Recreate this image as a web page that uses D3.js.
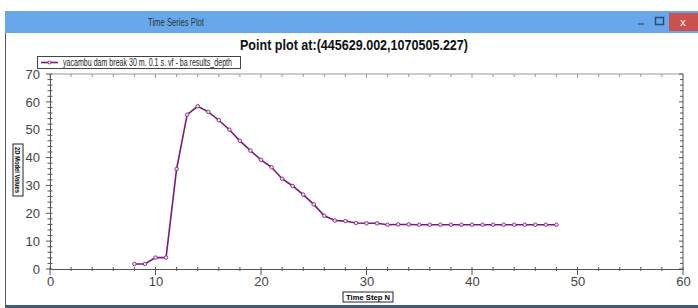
<!DOCTYPE html>
<html lang="en">
<head>
    <meta charset="UTF-8">
    <title>Time Series Plot</title>
    <script src="https://d3js.org/d3.v7.min.js"></script>
    <style>
        body { margin: 0; background: #fff; }
        text { font-family: Arial, "Liberation Sans", sans-serif; }
    </style>
</head>
<body>
    <script>
        // Data
        const timeSteps = [8, 9, 10, 11, 12, 13, 14, 15, 16, 17, 18, 19, 20, 21, 22, 23, 24, 25, 26, 27, 28,
                           29, 30, 31, 32, 33, 34, 35, 36, 37, 38, 39, 40, 41, 42, 43, 44, 45, 46, 47, 48];
        const depthValues = [1.8, 1.8, 4.1, 4.1, 35.9, 55.4, 58.4, 56.4, 53.4, 50.0, 46.0, 42.5, 39.2, 36.5, 32.4,
                             29.8, 26.7, 23.2, 19.1, 17.4, 17.2, 16.5, 16.4, 16.4, 15.9, 16.0, 16.0, 15.9, 15.9,
                             15.9, 15.9, 15.9, 15.9, 15.9, 15.9, 15.9, 15.9, 15.9, 15.9, 15.9, 15.9];
        const xTicks = [0, 10, 20, 30, 40, 50, 60];
        const yTicks = [0, 10, 20, 30, 40, 50, 60, 70];
        const seriesName = "yacambu dam break 30 m. 0.1 s. vf - ba results_depth";

        const width = 698, height = 308;
        const lineColor = "#7a1a7a";

        const svg = d3.select("body").append("svg")
            .attr("width", width)
            .attr("height", height);

        // squeezed text helper (the screenshot is narrower than real fonts)
        function fitText(sel, len) {
            return sel.attr("textLength", len).attr("lengthAdjust", "spacingAndGlyphs");
        }

        // window chrome
        svg.append("rect").attr("x", 5).attr("y", 11).attr("width", 693).attr("height", 22).attr("fill", "#67a8ea");
        fitText(svg.append("text").attr("x", 176).attr("y", 26).attr("text-anchor", "middle")
            .attr("font-size", 11).attr("fill", "#333").text("Time Series Plot"), 56);
        svg.append("rect").attr("x", 669).attr("y", 13).attr("width", 29).attr("height", 18).attr("fill", "#c9514f");
        svg.append("text").attr("x", 683).attr("y", 26).attr("text-anchor", "middle")
            .attr("font-size", 11).attr("fill", "#fff").text("x");
        svg.append("rect").attr("x", 638).attr("y", 23).attr("width", 6).attr("height", 2).attr("fill", "#4a6d93");
        svg.append("rect").attr("x", 655.5).attr("y", 17.5).attr("width", 8).attr("height", 7)
            .attr("fill", "none").attr("stroke", "#2f4c6e").attr("stroke-width", 1.5);
        svg.append("line").attr("x1", 5.5).attr("x2", 5.5).attr("y1", 33).attr("y2", 306).attr("stroke", "#555");
        svg.append("rect").attr("x", 5).attr("y", 305).attr("width", 693).attr("height", 3).attr("fill", "#3d5878");

        // scales
        const x = d3.scaleLinear().domain([0, 60]).range([50, 683]);
        const y = d3.scaleLinear().domain([0, 70]).range([269, 74]);

        // chart title
        fitText(svg.append("text").attr("x", 354).attr("y", 50).attr("text-anchor", "middle")
            .attr("font-size", 14).attr("font-weight", "bold").attr("fill", "#111")
            .text("Point plot at:(445629.002,1070505.227)"), 228);

        // frame lines top/right
        const axisColor = "#555";
        const minorX = d3.range(0, 61, 2), minorY = d3.range(0, 71, 2);

        svg.append("line").attr("x1", x(0)).attr("x2", x(60)).attr("y1", y(70)).attr("y2", y(70))
            .attr("stroke", "#999");
        svg.append("line").attr("x1", x(60)).attr("x2", x(60)).attr("y1", y(70)).attr("y2", y(0))
            .attr("stroke", axisColor);
        svg.append("g").selectAll("line").data(minorX).join("line")
            .attr("x1", d => x(d)).attr("x2", d => x(d))
            .attr("y1", y(70)).attr("y2", d => y(70) + (d % 10 === 0 ? 4 : 3))
            .attr("stroke", "#999");
        svg.append("g").selectAll("line").data(minorY).join("line")
            .attr("x1", x(60)).attr("x2", d => x(60) - (d % 10 === 0 ? 4 : 3))
            .attr("y1", d => y(d)).attr("y2", d => y(d))
            .attr("stroke", axisColor);

        // bottom axis
        const xAxis = svg.append("g").attr("transform", `translate(0,${y(0)})`)
            .call(d3.axisBottom(x).tickValues(xTicks).tickSize(0).tickPadding(8));
        xAxis.select(".domain").attr("stroke", axisColor);
        xAxis.selectAll("text").attr("font-size", 13).attr("fill", "#444").attr("font-family", "Arial");
        xAxis.selectAll(".mt").data(minorX).join("line")
            .attr("x1", d => x(d)).attr("x2", d => x(d))
            .attr("y1", -2).attr("y2", d => d % 10 === 0 ? 6 : 2)
            .attr("stroke", axisColor);

        // left axis
        const yAxis = svg.append("g").attr("transform", `translate(${x(0)},0)`)
            .call(d3.axisLeft(y).tickValues(yTicks).tickSize(0).tickPadding(10));
        yAxis.select(".domain").attr("stroke", axisColor);
        yAxis.selectAll("text").attr("font-size", 13).attr("fill", "#444").attr("font-family", "Arial");
        yAxis.selectAll(".mt").data(minorY).join("line")
            .attr("x1", d => d % 10 === 0 ? -4 : -2.5).attr("x2", 2.5)
            .attr("y1", d => y(d)).attr("y2", d => y(d))
            .attr("stroke", axisColor);

        // axis titles (boxed)
        const yl = svg.append("g").attr("transform", "translate(18,170) rotate(90)");
        yl.append("rect").attr("x", -26).attr("y", -5).attr("width", 52).attr("height", 10)
            .attr("fill", "#fff").attr("stroke", "#222");
        fitText(yl.append("text").attr("x", 0).attr("y", 3).attr("text-anchor", "middle")
            .attr("font-size", 8).attr("font-weight", "bold").text("2D Model Values"), 46);

        const xl = svg.append("g").attr("transform", "translate(368,297)");
        xl.append("rect").attr("x", -25).attr("y", -5).attr("width", 50).attr("height", 10)
            .attr("fill", "#fff").attr("stroke", "#222");
        fitText(xl.append("text").attr("x", 0).attr("y", 3).attr("text-anchor", "middle")
            .attr("font-size", 8).attr("font-weight", "bold").text("Time Step N"), 44);

        // series
        const pts = timeSteps.map((t, i) => [t, depthValues[i]]);
        svg.append("path").datum(pts)
            .attr("fill", "none").attr("stroke", lineColor).attr("stroke-width", 1.6)
            .attr("d", d3.line().x(d => x(d[0])).y(d => y(d[1])));
        svg.append("g").selectAll("circle").data(pts).join("circle")
            .attr("cx", d => x(d[0])).attr("cy", d => y(d[1])).attr("r", 1.8)
            .attr("fill", "#e8d8e8").attr("stroke", lineColor).attr("stroke-width", 0.8);

        // legend
        const lg = svg.append("g").attr("transform", "translate(37,56)");
        lg.append("rect").attr("x", 0.5).attr("y", 0.5).attr("width", 203).attr("height", 12)
            .attr("fill", "#fff").attr("stroke", "#444");
        lg.append("line").attr("x1", 4).attr("x2", 21).attr("y1", 6.5).attr("y2", 6.5)
            .attr("stroke", lineColor).attr("stroke-width", 1.6);
        lg.append("circle").attr("cx", 12.5).attr("cy", 6.5).attr("r", 1.5)
            .attr("fill", "#e8d8e8").attr("stroke", lineColor).attr("stroke-width", 0.8);
        fitText(lg.append("text").attr("x", 26).attr("y", 10).attr("font-size", 10).attr("fill", "#222")
            .text(seriesName), 169);
    </script>
</body>
</html>
